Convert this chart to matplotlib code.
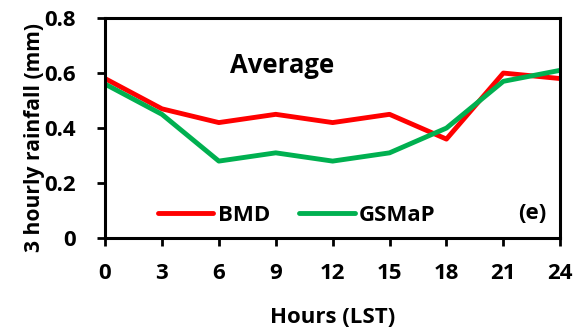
import matplotlib.pyplot as plt

hours = [0, 3, 6, 9, 12, 15, 18, 21, 24]
bmd = [0.58, 0.47, 0.42, 0.45, 0.42, 0.45, 0.36, 0.60, 0.58]
gsmap = [0.56, 0.45, 0.28, 0.31, 0.28, 0.31, 0.40, 0.57, 0.61]

plt.rcParams['font.family'] = ['Open Sans', 'DejaVu Sans']
plt.rcParams['font.weight'] = 'bold'

fig = plt.figure(figsize=(5.74, 3.28), dpi=100)
ax = fig.add_axes([0.183, 0.274, 0.793, 0.671])

ax.plot(hours, bmd, color='#FF0000', lw=3.5, label='BMD', solid_capstyle='round')
ax.plot(hours, gsmap, color='#00B050', lw=3.5, label='GSMaP', solid_capstyle='round')

ax.set_xlim(0, 24)
ax.set_ylim(0, 0.8)
ax.set_xticks(hours)
ax.set_yticks([0, 0.2, 0.4, 0.6, 0.8])
ax.set_yticklabels(['0', '0.2', '0.4', '0.6', '0.8'])
ax.tick_params(labelsize=16, width=2, length=6, direction='out')
ax.tick_params(axis='x', pad=12)
ax.tick_params(axis='y', pad=15)
for s in ax.spines.values():
    s.set_linewidth(2.2)

ax.set_xlabel("Hours (LST)", fontsize=16, fontweight='bold')
ax.set_ylabel("3 hourly rainfall (mm)", fontsize=15.1, fontweight='bold')
ax.xaxis.set_label_coords(0.5, -0.315)
ax.yaxis.set_label_coords(-0.132, 0.455)

ax.text(0.389, 0.785, "Average", transform=ax.transAxes, fontsize=18.5,
        fontweight='bold', ha='center', va='center')
ax.text(22.5, 0.09, "(e)", fontsize=16, fontweight='bold', ha='center', va='center')

ax.legend(loc='center left', bbox_to_anchor=(0.116, 0.105), ncol=2, frameon=False,
          fontsize=16, handlelength=2.5, columnspacing=1.3, handletextpad=0.2,
          borderpad=0, borderaxespad=0)

fig.savefig('out.png', dpi=100)
